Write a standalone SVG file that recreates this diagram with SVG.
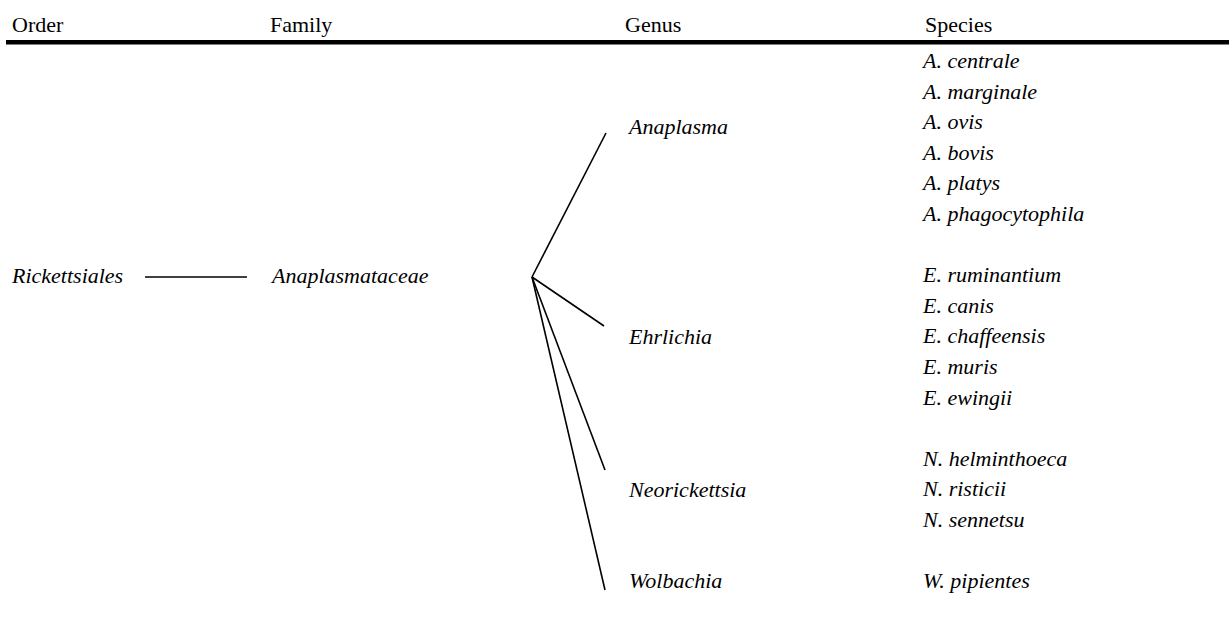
<svg xmlns="http://www.w3.org/2000/svg" width="1229" height="621" viewBox="0 0 1229 621">
  <style>
    .link { stroke: #000; stroke-width: 1.6; fill: none; }
  </style>
  <rect width="1229" height="621" fill="#fff"/>

  <g font-family="'Liberation Serif', 'Times New Roman', 'DejaVu Serif', serif" font-size="22" fill="#000">
    <!-- column headers and rule -->
    <g id="headers">
      <text x="12" y="32">Order</text>
      <text x="270" y="32">Family</text>
      <text x="625" y="32">Genus</text>
      <text x="925" y="32">Species</text>
      <rect x="6" y="40" width="1223" height="4.5" fill="#000"/>
    </g>

    <!-- connectors -->
    <g id="connectors">
      <line class="link" x1="145" y1="277" x2="247" y2="277"/>
      <line class="link" x1="532" y1="277" x2="606" y2="133"/>
      <line class="link" x1="532" y1="277" x2="604" y2="326"/>
      <line class="link" x1="532" y1="277" x2="605" y2="470"/>
      <line class="link" x1="532" y1="277" x2="605" y2="590"/>
    </g>

    <g font-style="italic">
      <g id="order-rickettsiales"><text x="12" y="283">Rickettsiales</text></g>
      <g id="family-anaplasmataceae"><text x="272" y="283">Anaplasmataceae</text></g>

      <g id="genus-anaplasma"><text x="629" y="134">Anaplasma</text></g>
      <g id="genus-ehrlichia"><text x="629" y="344">Ehrlichia</text></g>
      <g id="genus-neorickettsia"><text x="629" y="497">Neorickettsia</text></g>
      <g id="genus-wolbachia"><text x="629" y="588">Wolbachia</text></g>

      <g id="species-anaplasma">
        <text x="923" y="68">A. centrale</text>
        <text x="923" y="98.6">A. marginale</text>
        <text x="923" y="129.2">A. ovis</text>
        <text x="923" y="159.8">A. bovis</text>
        <text x="923" y="190.4">A. platys</text>
        <text x="923" y="221">A. phagocytophila</text>
      </g>
      <g id="species-ehrlichia">
        <text x="923" y="282.2">E. ruminantium</text>
        <text x="923" y="312.8">E. canis</text>
        <text x="923" y="343.4">E. chaffeensis</text>
        <text x="923" y="374">E. muris</text>
        <text x="923" y="404.6">E. ewingii</text>
      </g>
      <g id="species-neorickettsia">
        <text x="923" y="465.8">N. helminthoeca</text>
        <text x="923" y="496.4">N. risticii</text>
        <text x="923" y="527">N. sennetsu</text>
      </g>
      <g id="species-wolbachia">
        <text x="923" y="588.2">W. pipientes</text>
      </g>
    </g>
  </g>
</svg>
